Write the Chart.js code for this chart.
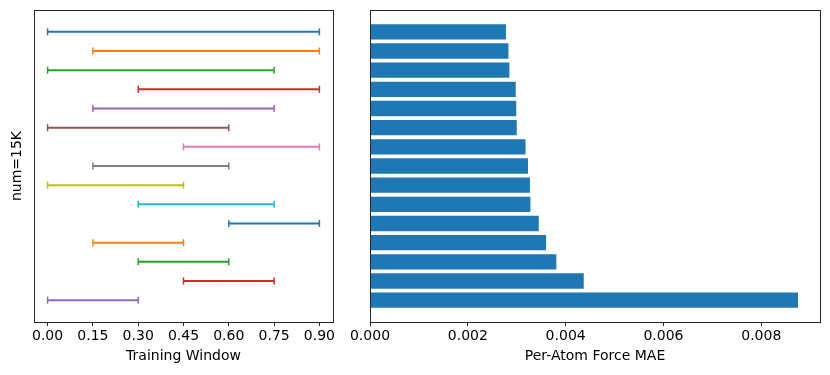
<!DOCTYPE html>
<html lang="en">
<head>
<meta charset="UTF-8">
<script src="https://cdn.jsdelivr.net/npm/chart.js"></script>
<title>Training window vs force MAE</title>
<style>
  body { margin: 0; background: #fff; }
  #wrap { position: relative; width: 830px; height: 375px; }
  #left { position: absolute; left: 0; top: 0; }
  #right { position: absolute; left: 340px; top: 0; }
</style>
</head>
<body>
<div id="wrap">
  <canvas id="left" width="340" height="375"></canvas>
  <canvas id="right" width="490" height="375"></canvas>
</div>
<script>
  // training windows, top to bottom
  const windowStart = [0.00, 0.15, 0.00, 0.30, 0.15, 0.00, 0.45, 0.15, 0.00, 0.30, 0.60, 0.15, 0.30, 0.45, 0.00];
  const windowEnd   = [0.90, 0.90, 0.75, 0.90, 0.75, 0.60, 0.90, 0.60, 0.45, 0.75, 0.90, 0.45, 0.60, 0.75, 0.30];
  // per-atom force MAE, same order
  const forceMae = [0.00278, 0.00283, 0.00285, 0.00298, 0.00299, 0.00300, 0.00318, 0.00323, 0.00327, 0.00328,
                    0.00345, 0.00360, 0.00381, 0.00437, 0.00875];
  const windowTicks = [0, 0.15, 0.30, 0.45, 0.60, 0.75, 0.90];
  const maeTicks = [0, 0.002, 0.004, 0.006, 0.008];

  const tab10 = ['#1f77b4', '#ff7f0e', '#2ca02c', '#d62728', '#9467bd', '#8c564b', '#e377c2', '#7f7f7f', '#bcbd22', '#17becf'];
  const font = { family: 'DejaVu Sans', size: 14, lineHeight: 1.2 };
  const spine = '#262626';

  Chart.defaults.color = '#000';

  // matplotlib-like box round the plot area
  const boxPlugin = {
    id: 'box',
    afterDraw(chart) {
      const a = chart.chartArea, c = chart.ctx;
      c.save();
      c.strokeStyle = spine;
      c.lineWidth = 1;
      c.strokeRect(Math.round(a.left) + 0.5, Math.round(a.top) + 0.5,
                   Math.round(a.right - a.left), Math.round(a.bottom - a.top));
      c.restore();
    }
  };

  const yMin = -1.14, yMax = 15.14;

  function xAxis(min, max, ticks, digits, title) {
    return {
      type: 'linear', min: min, max: max, offset: false,
      afterBuildTicks: s => { s.ticks = ticks.map(v => ({ value: v })); },
      afterFit: s => { s.height = 53; },
      border: { display: false },
      grid: { display: true, drawOnChartArea: false, tickLength: 4, tickColor: spine, tickWidth: 1 },
      ticks: { padding: 2, maxRotation: 0, autoSkip: false, font: font, callback: v => Number(v).toFixed(digits) },
      title: { display: true, text: title, font: font, padding: { top: 0, bottom: 10 } }
    };
  }

  function yAxis(width, title) {
    return {
      type: 'linear', min: yMin, max: yMax, reverse: true, offset: false,
      afterFit: s => { s.width = width; },
      border: { display: false },
      grid: { display: false },
      ticks: { display: false },
      title: { display: !!title, text: title || '', font: font, padding: { top: 9, bottom: 0 } }
    };
  }

  // left panel: window segments with caps
  const segs = windowStart.map((s, i) => ({
    data: [{ x: s, y: i }, { x: windowEnd[i], y: i }],
    borderColor: tab10[i % 10],
    backgroundColor: tab10[i % 10],
    borderWidth: 2,
    pointStyle: 'line',
    rotation: 90,
    pointRadius: 3.5,
    pointBorderWidth: 1.5,
    pointHoverRadius: 3.5
  }));

  new Chart(document.getElementById('left'), {
    type: 'line',
    data: { datasets: segs },
    options: {
      responsive: false,
      animation: false,
      layout: { padding: { top: 10, right: 7, left: 0, bottom: 0 } },
      plugins: { legend: { display: false }, tooltip: { enabled: false } },
      scales: {
        x: xAxis(-0.045, 0.945, windowTicks, 2, 'Training Window'),
        y: yAxis(34, 'num=15K')
      }
    },
    plugins: [boxPlugin]
  });

  // right panel: MAE bars
  new Chart(document.getElementById('right'), {
    type: 'bar',
    data: {
      datasets: [{
        data: forceMae.map((v, i) => ({ x: v, y: i })),
        backgroundColor: '#1f77b4',
        borderWidth: 0,
        barPercentage: 0.8,
        categoryPercentage: 1.0
      }]
    },
    options: {
      indexAxis: 'y',
      responsive: false,
      animation: false,
      layout: { padding: { top: 10, right: 10, left: 0, bottom: 0 } },
      plugins: { legend: { display: false }, tooltip: { enabled: false } },
      scales: {
        x: xAxis(0, 0.0092, maeTicks, 3, 'Per-Atom Force MAE'),
        y: yAxis(30, null)
      }
    },
    plugins: [boxPlugin]
  });
</script>
</body>
</html>
